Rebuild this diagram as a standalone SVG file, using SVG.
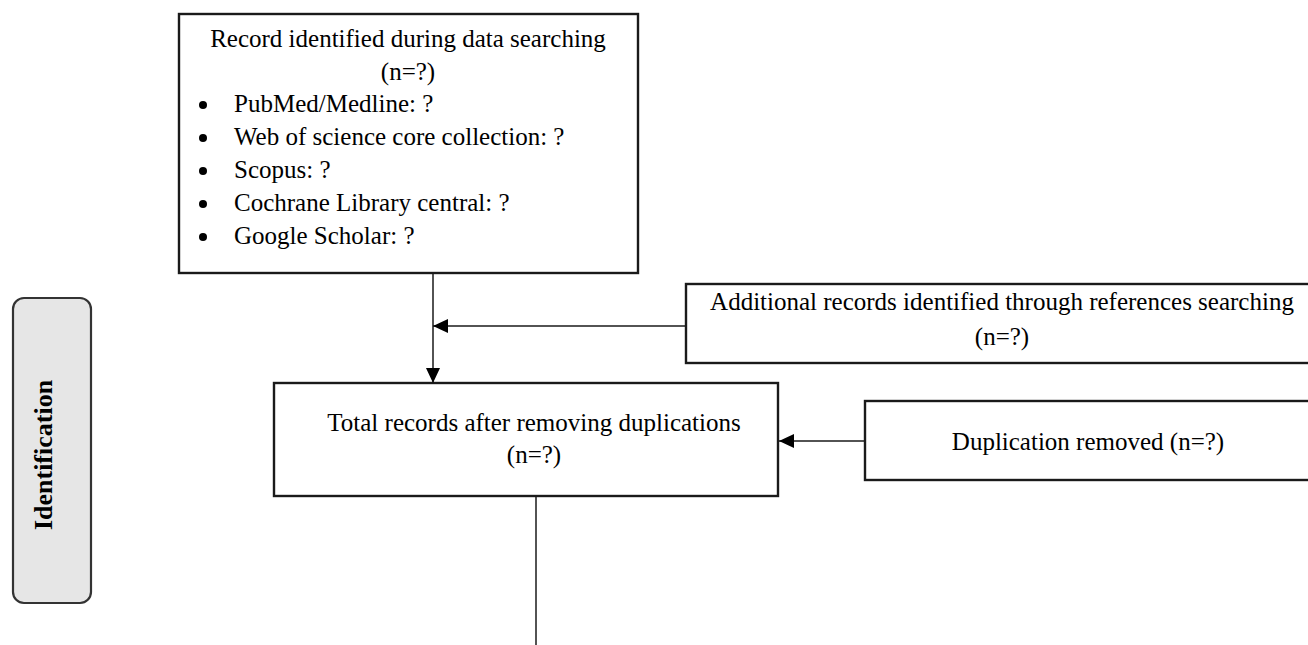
<svg xmlns="http://www.w3.org/2000/svg" width="1308" height="645" viewBox="0 0 1308 645">
  <defs>
    <style>
      .box { fill: #ffffff; stroke: #1a1a1a; stroke-width: 2.4; }
      .phase { fill: #e6e6e6; stroke: #333333; stroke-width: 2.2; }
      .t { font-family: "Liberation Serif", "Times New Roman", serif; font-size: 25px; fill: #000000; }
      .c { text-anchor: middle; }
      .phaseText { font-family: "Liberation Serif", "Times New Roman", serif; font-size: 26px; font-weight: bold; fill: #000000; text-anchor: middle; }
      .line { stroke: #1a1a1a; stroke-width: 1.5; fill: none; }
    </style>
    <marker id="arrow" viewBox="0 0 15 14" refX="15" refY="7" markerWidth="15" markerHeight="14" markerUnits="userSpaceOnUse" orient="auto">
      <path d="M0,0 L15,7 L0,14 Z" fill="#000000"/>
    </marker>
  </defs>

  <rect width="1308" height="645" fill="#ffffff"/>

  <g id="phase-identification">
    <rect class="phase" x="13" y="298" width="78" height="305" rx="11" ry="11"/>
    <text class="phaseText" transform="translate(52,455) rotate(-90)">Identification</text>
  </g>

  <g id="node-database-search">
    <rect class="box" x="179" y="14" width="459" height="259"/>
    <text class="t c" x="408" y="47">Record identified during data searching</text>
    <text class="t c" x="408" y="80">(n=?)</text>
    <circle cx="203" cy="105" r="4"/>
    <text class="t" x="234" y="112">PubMed/Medline: ?</text>
    <circle cx="203" cy="138" r="4"/>
    <text class="t" x="234" y="145">Web of science core collection: ?</text>
    <circle cx="203" cy="171" r="4"/>
    <text class="t" x="234" y="178">Scopus: ?</text>
    <circle cx="203" cy="204" r="4"/>
    <text class="t" x="234" y="211">Cochrane Library central: ?</text>
    <circle cx="203" cy="237" r="4"/>
    <text class="t" x="234" y="244">Google Scholar: ?</text>
  </g>

  <g id="node-additional-records">
    <rect class="box" x="686" y="284" width="640" height="79"/>
    <text class="t c" x="1002" y="310">Additional records identified through references searching</text>
    <text class="t c" x="1002" y="345">(n=?)</text>
  </g>

  <g id="node-total-records">
    <rect class="box" x="274" y="383" width="504" height="113"/>
    <text class="t c" x="534" y="431">Total records after removing duplications</text>
    <text class="t c" x="534" y="463">(n=?)</text>
  </g>

  <g id="node-duplication-removed">
    <rect class="box" x="865" y="401" width="460" height="79"/>
    <text class="t c" x="1088" y="450">Duplication removed (n=?)</text>
  </g>

  <g id="connectors">
    <line class="line" x1="433" y1="273" x2="433" y2="383" marker-end="url(#arrow)"/>
    <line class="line" x1="686" y1="326" x2="433" y2="326" marker-end="url(#arrow)"/>
    <line class="line" x1="865" y1="441" x2="779" y2="441" marker-end="url(#arrow)"/>
    <line class="line" x1="536" y1="496" x2="536" y2="645"/>
  </g>
</svg>
